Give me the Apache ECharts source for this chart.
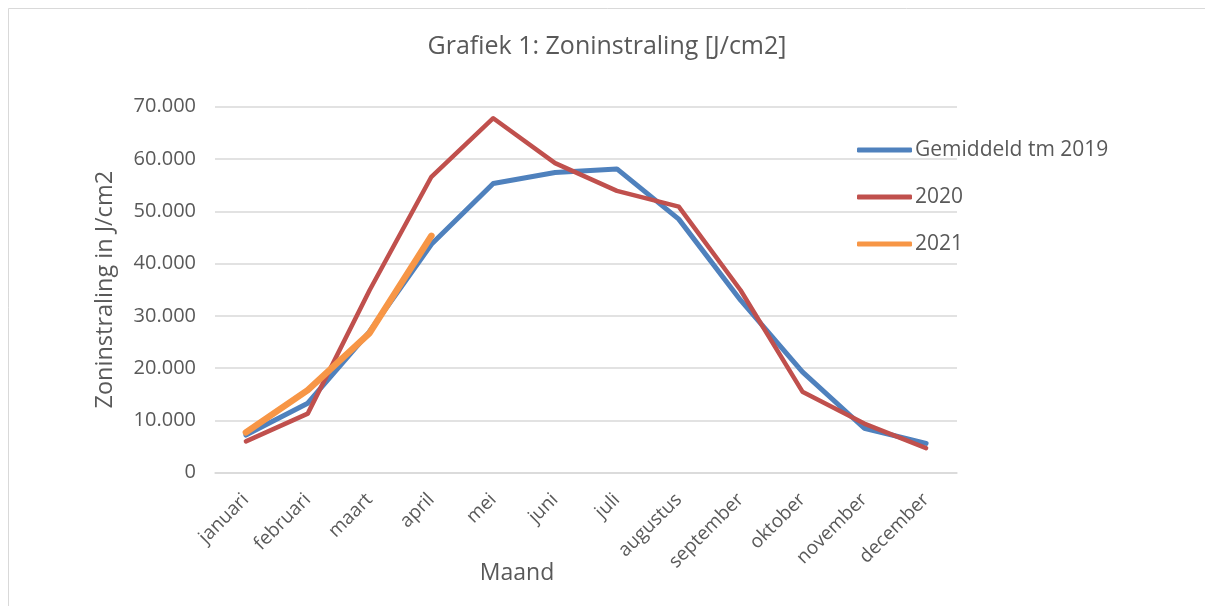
<!DOCTYPE html>
<html>
<head>
<meta charset="utf-8">
<script src="https://cdn.jsdelivr.net/npm/echarts@6/dist/echarts.min.js"></script>
<style>html,body{margin:0;padding:0;background:#fff;}#c{width:1205px;height:606px;}</style>
</head>
<body>
<div id="c"></div>
<script>
const months = ['januari','februari','maart','april','mei','juni','juli','augustus','september','oktober','november','december'];
const gemiddeld = [7200, 13300, 27000, 43700, 55300, 57400, 58100, 48500, 33000, 19300, 8500, 5600];
const y2020 = [6000, 11300, 34900, 56600, 67800, 59200, 53900, 50900, 34900, 15500, 9400, 4700];
const y2021 = [7700, 15800, 26700, 45300];
const seriesNames = ['Gemiddeld tm 2019', '2020', '2021'];
const yTicks = { min: 0, max: 70000, interval: 10000 };

const fmt = v => v === 0 ? '0' : String(v).replace(/\B(?=(\d{3})+(?!\d))/g, '.');
const txt = '#595959';
const font = '"Open Sans", sans-serif';

const chart = echarts.init(document.getElementById('c'), null, {renderer: 'canvas'});
chart.setOption({
  animation: false,
  backgroundColor: '#fff',
  textStyle: { fontFamily: font },
  graphic: [{
    type: 'rect', shape: { x: 8.5, y: 8.5, width: 1210, height: 620 },
    style: { fill: 'none', stroke: '#d9d9d9', lineWidth: 1 }, silent: true
  }],
  title: {
    text: 'Grafiek 1: Zoninstraling [J/cm2]',
    left: 607, top: 34, textAlign: 'center', padding: 0,
    textStyle: { color: txt, fontSize: 25, fontWeight: 'normal', fontFamily: font }
  },
  legend: {
    orient: 'vertical', left: 857, top: 135, padding: 0,
    itemWidth: 55, itemHeight: 5, itemGap: 17,
    icon: 'roundRect',
    textStyle: { color: txt, fontSize: 21, fontFamily: font, lineHeight: 30, padding: [0, 0, 0, -2] },
    data: seriesNames
  },
  grid: { left: 215, right: 248, top: 106.7, bottom: 133.3 },
  xAxis: {
    type: 'category', data: months, boundaryGap: true,
    axisLine: { show: true, lineStyle: { color: '#d9d9d9', width: 1.5 } },
    axisTick: { show: false },
    axisLabel: { rotate: 45, color: txt, fontSize: 19, fontFamily: font, margin: 24, interval: 0 },
    name: 'Maand', nameLocation: 'middle', nameGap: 89, nameMoveOverlap: false,
    nameTextStyle: { color: txt, fontSize: 23, fontFamily: font, padding: [0, 138, 0, 0] }
  },
  yAxis: {
    type: 'value', min: yTicks.min, max: yTicks.max, interval: yTicks.interval,
    axisLine: { show: false }, axisTick: { show: false },
    splitLine: { lineStyle: { color: '#d9d9d9', width: 1.5 } },
    axisLabel: { color: txt, fontSize: 20, fontFamily: font, margin: 19, formatter: fmt },
    name: 'Zoninstraling in J/cm2', nameLocation: 'middle', nameGap: 98,
    nameTextStyle: { color: txt, fontSize: 23.5, fontFamily: font }
  },
  series: [
    { name: seriesNames[0], type: 'line', data: gemiddeld, symbol: 'none',
      lineStyle: { color: '#4F81BD', width: 5, cap: 'round', join: 'round' }, itemStyle: { color: '#4F81BD' } },
    { name: seriesNames[1], type: 'line', data: y2020, symbol: 'none',
      lineStyle: { color: '#C0504D', width: 4.5, cap: 'round', join: 'round' }, itemStyle: { color: '#C0504D' } },
    { name: seriesNames[2], type: 'line', data: y2021, symbol: 'none',
      lineStyle: { color: '#F79646', width: 6.5, cap: 'round', join: 'round' }, itemStyle: { color: '#F79646' } }
  ]
});
</script>
</body>
</html>
